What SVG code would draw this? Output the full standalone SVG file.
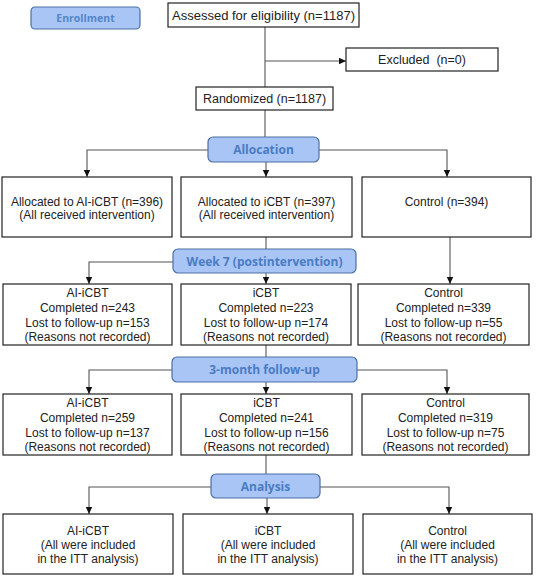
<svg xmlns="http://www.w3.org/2000/svg" width="539" height="578" viewBox="0 0 539 578">
<defs>
<marker id="ah" markerWidth="8" markerHeight="8" refX="7" refY="4" orient="auto" markerUnits="userSpaceOnUse">
<path d="M0,0.8 L7,4 L0,7.2 Z" fill="#111"/>
</marker>
<style>
.box{fill:#fff;stroke:#222;stroke-width:1.2}
.stage{fill:#a8c5f6;stroke:#4d6fa3;stroke-width:1.2}
.t{font-family:"Liberation Sans",Arial,sans-serif;font-size:12px;fill:#222;text-anchor:middle}
.h{font-family:"Open Sans","Liberation Sans",sans-serif;font-weight:700;font-size:12px;fill:#4a7cc4;text-anchor:middle}
.c{fill:none;stroke:#555;stroke-width:1.1}
.a{fill:none;stroke:#555;stroke-width:1.1;marker-end:url(#ah)}
</style>
</defs>
<rect width="539" height="578" fill="#fff"/>
<g id="connectors">
<path class="c" d="M265,27 V87"/>
<path class="a" d="M265,61 H346"/>
<path class="c" d="M265,110 V137"/>
<path class="a" d="M208,150 H87 V177"/>
<path class="a" d="M319,150 H447 V177"/>
<path class="a" d="M266,162 V177"/>
<path class="c" d="M266,237 V249"/>
<path class="a" d="M173,262 H89 V284"/>
<path class="a" d="M266,273 V284"/>
<path class="a" d="M450,237 V284"/>
<path class="c" d="M266,345 V357"/>
<path class="a" d="M172,370 H89 V394"/>
<path class="a" d="M357,370 H447 V394"/>
<path class="a" d="M266,382 V394"/>
<path class="c" d="M266,455 V474"/>
<path class="a" d="M211,487 H89 V514"/>
<path class="a" d="M320,487 H449 V514"/>
<path class="a" d="M267,498 V514"/>
</g>
<g id="enrollment">
<rect class="stage" x="31" y="7" width="109" height="22" rx="4"/>
<text class="h" x="85.5" y="22" style="font-size:10.5px" fill-opacity="0.9">Enrollment</text>
</g>
<g id="assessed">
<rect class="box" x="168" y="3" width="191" height="24"/>
<text class="t" x="263.5" y="20" style="font-size:13px">Assessed for eligibility (n=1187)</text>
</g>
<g id="excluded">
<rect class="box" x="346" y="48" width="152" height="23"/>
<text class="t" x="422" y="64" style="font-size:12.5px" xml:space="preserve">Excluded  (n=0)</text>
</g>
<g id="randomized">
<rect class="box" x="196" y="87" width="137" height="23"/>
<text class="t" x="264.5" y="103" style="font-size:12.5px">Randomized (n=1187)</text>
</g>
<g id="allocation">
<rect class="stage" x="208" y="137" width="111" height="25" rx="5"/>
<text class="h" x="263.5" y="154">Allocation</text>
</g>
<g id="alloc-ai">
<rect class="box" x="2" y="177" width="170" height="60"/>
<text class="t" x="87" y="206">Allocated to AI-iCBT (n=396)</text>
<text class="t" x="87" y="219">(All received intervention)</text>
</g>
<g id="alloc-icbt">
<rect class="box" x="181" y="177" width="171" height="60"/>
<text class="t" x="266.5" y="206">Allocated to iCBT (n=397)</text>
<text class="t" x="266.5" y="219">(All received intervention)</text>
</g>
<g id="alloc-control">
<rect class="box" x="362" y="177" width="169" height="60"/>
<text class="t" x="446.5" y="206">Control (n=394)</text>
</g>
<g id="week7">
<rect class="stage" x="173" y="249" width="183" height="24" rx="5"/>
<text class="h" x="264.5" y="265.5">Week 7 (postintervention)</text>
</g>
<g id="w7-ai">
<rect class="box" x="3" y="284" width="169" height="61"/>
<text class="t" x="87.5" y="297">AI-iCBT</text>
<text class="t" x="87.5" y="312">Completed n=243</text>
<text class="t" x="87.5" y="327">Lost to follow-up n=153</text>
<text class="t" x="87.5" y="341">(Reasons not recorded)</text>
</g>
<g id="w7-icbt">
<rect class="box" x="181" y="284" width="170" height="61"/>
<text class="t" x="266" y="297">iCBT</text>
<text class="t" x="266" y="312">Completed n=223</text>
<text class="t" x="266" y="327">Lost to follow-up n=174</text>
<text class="t" x="266" y="341">(Reasons not recorded)</text>
</g>
<g id="w7-control">
<rect class="box" x="358" y="284" width="171" height="61"/>
<text class="t" x="443.5" y="297">Control</text>
<text class="t" x="443.5" y="312">Completed n=339</text>
<text class="t" x="443.5" y="327">Lost to follow-up n=55</text>
<text class="t" x="443.5" y="341">(Reasons not recorded)</text>
</g>
<g id="month3">
<rect class="stage" x="172" y="357" width="185" height="25" rx="5"/>
<text class="h" x="264.5" y="374">3-month follow-up</text>
</g>
<g id="m3-ai">
<rect class="box" x="3" y="394" width="169" height="61"/>
<text class="t" x="87.5" y="407">AI-iCBT</text>
<text class="t" x="87.5" y="422">Completed n=259</text>
<text class="t" x="87.5" y="437">Lost to follow-up n=137</text>
<text class="t" x="87.5" y="451">(Reasons not recorded)</text>
</g>
<g id="m3-icbt">
<rect class="box" x="181" y="394" width="171" height="61"/>
<text class="t" x="266.5" y="407">iCBT</text>
<text class="t" x="266.5" y="422">Completed n=241</text>
<text class="t" x="266.5" y="437">Lost to follow-up n=156</text>
<text class="t" x="266.5" y="451">(Reasons not recorded)</text>
</g>
<g id="m3-control">
<rect class="box" x="362" y="394" width="167" height="61"/>
<text class="t" x="445.5" y="407">Control</text>
<text class="t" x="445.5" y="422">Completed n=319</text>
<text class="t" x="445.5" y="437">Lost to follow-up n=75</text>
<text class="t" x="445.5" y="451">(Reasons not recorded)</text>
</g>
<g id="analysis">
<rect class="stage" x="211" y="474" width="109" height="24" rx="5"/>
<text class="h" x="265.5" y="490.5">Analysis</text>
</g>
<g id="an-ai">
<rect class="box" x="3" y="514" width="170" height="60"/>
<text class="t" x="88" y="535">AI-iCBT</text>
<text class="t" x="88" y="549">(All were included</text>
<text class="t" x="88" y="563">in the ITT analysis)</text>
</g>
<g id="an-icbt">
<rect class="box" x="183" y="514" width="170" height="60"/>
<text class="t" x="268" y="535">iCBT</text>
<text class="t" x="268" y="549">(All were included</text>
<text class="t" x="268" y="563">in the ITT analysis)</text>
</g>
<g id="an-control">
<rect class="box" x="363" y="514" width="169" height="60"/>
<text class="t" x="447.5" y="535">Control</text>
<text class="t" x="447.5" y="549">(All were included</text>
<text class="t" x="447.5" y="563">in the ITT analysis)</text>
</g>
</svg>
